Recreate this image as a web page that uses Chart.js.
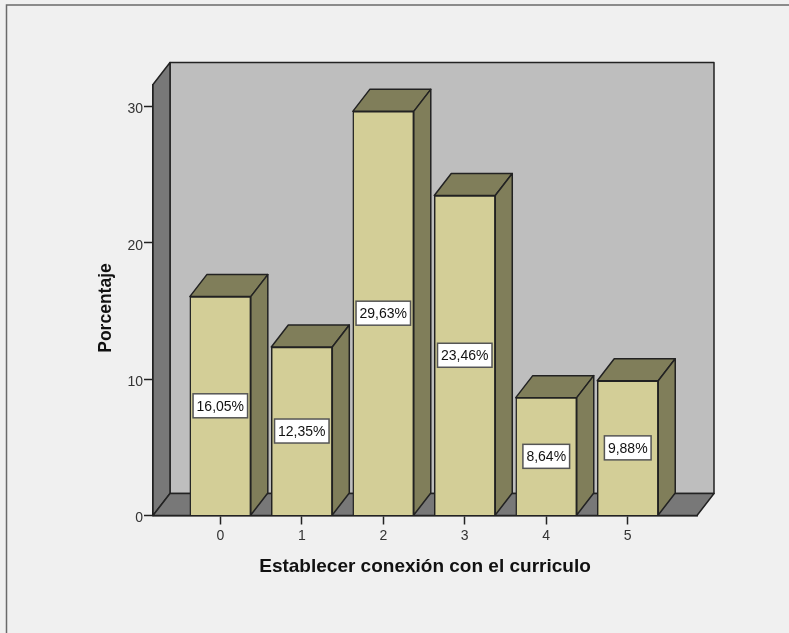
<!DOCTYPE html>
<html>
<head>
<meta charset="utf-8">
<title>Establecer conexión con el curriculo</title>
<script src="https://cdn.jsdelivr.net/npm/chart.js@4/dist/chart.umd.min.js"></script>
<style>
  html, body { margin: 0; padding: 0; background: #f0f0f0; }
  #wrap { position: relative; width: 789px; height: 633px; }
</style>
</head>
<body>
<div id="wrap"><canvas id="chart"></canvas></div>
<script>
var categories = [0, 1, 2, 3, 4, 5];
var percentages = [16.05, 12.35, 29.63, 23.46, 8.64, 9.88];
var yTicks = [0, 10, 20, 30];
var xTitle = "Establecer conexión con el curriculo";
var yTitle = "Porcentaje";

// how far the box walls and bar sides recede, in pixels
var depthX = 17;
var depthY = 22;

var frontColor = "#d3ce97";
var shadeColor = "#807e5a";
var wallColor = "#bebebe";
var floorColor = "#787878";
var lineColor = "#222222";
var fontFamily = '"Liberation Sans", Arial, sans-serif';

function polygon(ctx, pts, fill) {
  ctx.beginPath();
  ctx.moveTo(pts[0][0], pts[0][1]);
  for (var i = 1; i < pts.length; i++) ctx.lineTo(pts[i][0], pts[i][1]);
  ctx.closePath();
  ctx.fillStyle = fill;
  ctx.fill();
  ctx.stroke();
}

function valueLabel(v) {
  return v.toFixed(2).replace(".", ",") + "%";
}

// window frame, only the top and left edges show
var framePlugin = {
  id: "frame",
  beforeDraw: function (chart) {
    var ctx = chart.ctx;
    ctx.save();
    ctx.fillStyle = "#f0f0f0";
    ctx.fillRect(0, 0, chart.width, chart.height);
    ctx.strokeStyle = "#6a6a6a";
    ctx.lineWidth = 1.5;
    ctx.beginPath();
    ctx.moveTo(6.5, chart.height);
    ctx.lineTo(6.5, 5);
    ctx.lineTo(chart.width, 5);
    ctx.stroke();
    ctx.restore();
  }
};

// back wall, side wall and floor, then the top and side of each bar
var box3dPlugin = {
  id: "box3d",
  beforeDatasetsDraw: function (chart) {
    var ctx = chart.ctx;
    var a = chart.chartArea;
    ctx.save();
    ctx.strokeStyle = lineColor;
    ctx.lineWidth = 1.5;
    ctx.lineJoin = "round";

    polygon(ctx, [[a.left + depthX, a.top - depthY], [a.right + depthX, a.top - depthY],
      [a.right + depthX, a.bottom - depthY], [a.left + depthX, a.bottom - depthY]], wallColor);
    polygon(ctx, [[a.left, a.top], [a.left + depthX, a.top - depthY],
      [a.left + depthX, a.bottom - depthY], [a.left, a.bottom]], floorColor);
    polygon(ctx, [[a.left, a.bottom], [a.left + depthX, a.bottom - depthY],
      [a.right + depthX, a.bottom - depthY], [a.right, a.bottom]], floorColor);

    chart.getDatasetMeta(0).data.forEach(function (bar) {
      var l = bar.x - bar.width / 2;
      var r = bar.x + bar.width / 2;
      polygon(ctx, [[l, bar.y], [l + depthX, bar.y - depthY],
        [r + depthX, bar.y - depthY], [r, bar.y]], shadeColor);
      polygon(ctx, [[r, bar.y], [r + depthX, bar.y - depthY],
        [r + depthX, bar.base - depthY], [r, bar.base]], shadeColor);
    });
    ctx.restore();
  },
  afterDatasetsDraw: function (chart) {
    var ctx = chart.ctx;
    ctx.save();
    ctx.font = "14px " + fontFamily;
    ctx.textAlign = "center";
    ctx.textBaseline = "middle";
    chart.getDatasetMeta(0).data.forEach(function (bar, i) {
      var text = valueLabel(percentages[i]);
      var w = ctx.measureText(text).width + 7;
      var h = 24;
      var cy = (bar.y + bar.base) / 2;
      ctx.fillStyle = "#ffffff";
      ctx.strokeStyle = "#555555";
      ctx.lineWidth = 1.5;
      ctx.fillRect(bar.x - w / 2, cy - h / 2, w, h);
      ctx.strokeRect(bar.x - w / 2, cy - h / 2, w, h);
      ctx.fillStyle = "#111111";
      ctx.fillText(text, bar.x, cy + 1);
    });
    ctx.restore();
  },
  // the y title sits a little below the middle of the axis, so it is placed by hand
  afterDraw: function (chart) {
    var ctx = chart.ctx;
    var a = chart.chartArea;
    ctx.save();
    ctx.translate(106, (a.top + a.bottom) / 2 + 8);
    ctx.rotate(-Math.PI / 2);
    ctx.font = "bold 17.5px " + fontFamily;
    ctx.fillStyle = "#111111";
    ctx.textAlign = "center";
    ctx.textBaseline = "middle";
    ctx.fillText(yTitle, 0, 0);
    ctx.restore();
  }
};

new Chart(document.getElementById("chart"), {
  type: "bar",
  data: {
    datasets: [{
      data: categories.map(function (c, i) { return { x: c, y: percentages[i] }; }),
      backgroundColor: frontColor,
      borderColor: lineColor,
      borderWidth: 1.5,
      barThickness: 61
    }]
  },
  plugins: [framePlugin, box3dPlugin],
  options: {
    responsive: true,
    maintainAspectRatio: false,
    animation: false,
    layout: { padding: { top: 84.5, right: 92, bottom: 0, left: 0 } },
    plugins: { legend: { display: false }, tooltip: { enabled: false } },
    scales: {
      x: {
        type: "linear",
        offset: false,
        min: -0.826,
        max: 5.85,
        afterBuildTicks: function (scale) {
          scale.ticks = categories.map(function (c) { return { value: c }; });
        },
        afterFit: function (scale) {
          scale.height = 117.5;
          scale.paddingLeft = 0;
          scale.paddingRight = 0;
        },
        grid: { display: true, drawOnChartArea: false, drawTicks: true, tickLength: 9, tickWidth: 1.5, tickColor: lineColor, offset: false },
        border: { color: lineColor, width: 1.5 },
        ticks: {
          padding: 3,
          color: "#333333",
          font: { family: fontFamily, size: 14 },
          maxRotation: 0,
          callback: function (v) { return String(v); }
        },
        title: {
          display: true,
          text: xTitle,
          color: "#111111",
          font: { family: fontFamily, size: 19, weight: "bold" },
          padding: { top: 6, bottom: 55 }
        }
      },
      y: {
        min: 0,
        max: 31.6,
        afterBuildTicks: function (scale) {
          scale.ticks = yTicks.map(function (t) { return { value: t }; });
        },
        afterFit: function (scale) {
          scale.width = 153;
          scale.paddingTop = 0;
          scale.paddingBottom = 0;
        },
        grid: { display: true, drawOnChartArea: false, drawTicks: true, tickLength: 9, tickWidth: 1.5, tickColor: lineColor },
        border: { color: lineColor, width: 1.5 },
        ticks: {
          padding: 1,
          color: "#333333",
          // empty first line pushes the number a few pixels below its tick
          font: { family: fontFamily, size: 14, lineHeight: "6px" },
          callback: function (v) { return ["", String(v)]; }
        }
      }
    }
  }
});
</script>
</body>
</html>
